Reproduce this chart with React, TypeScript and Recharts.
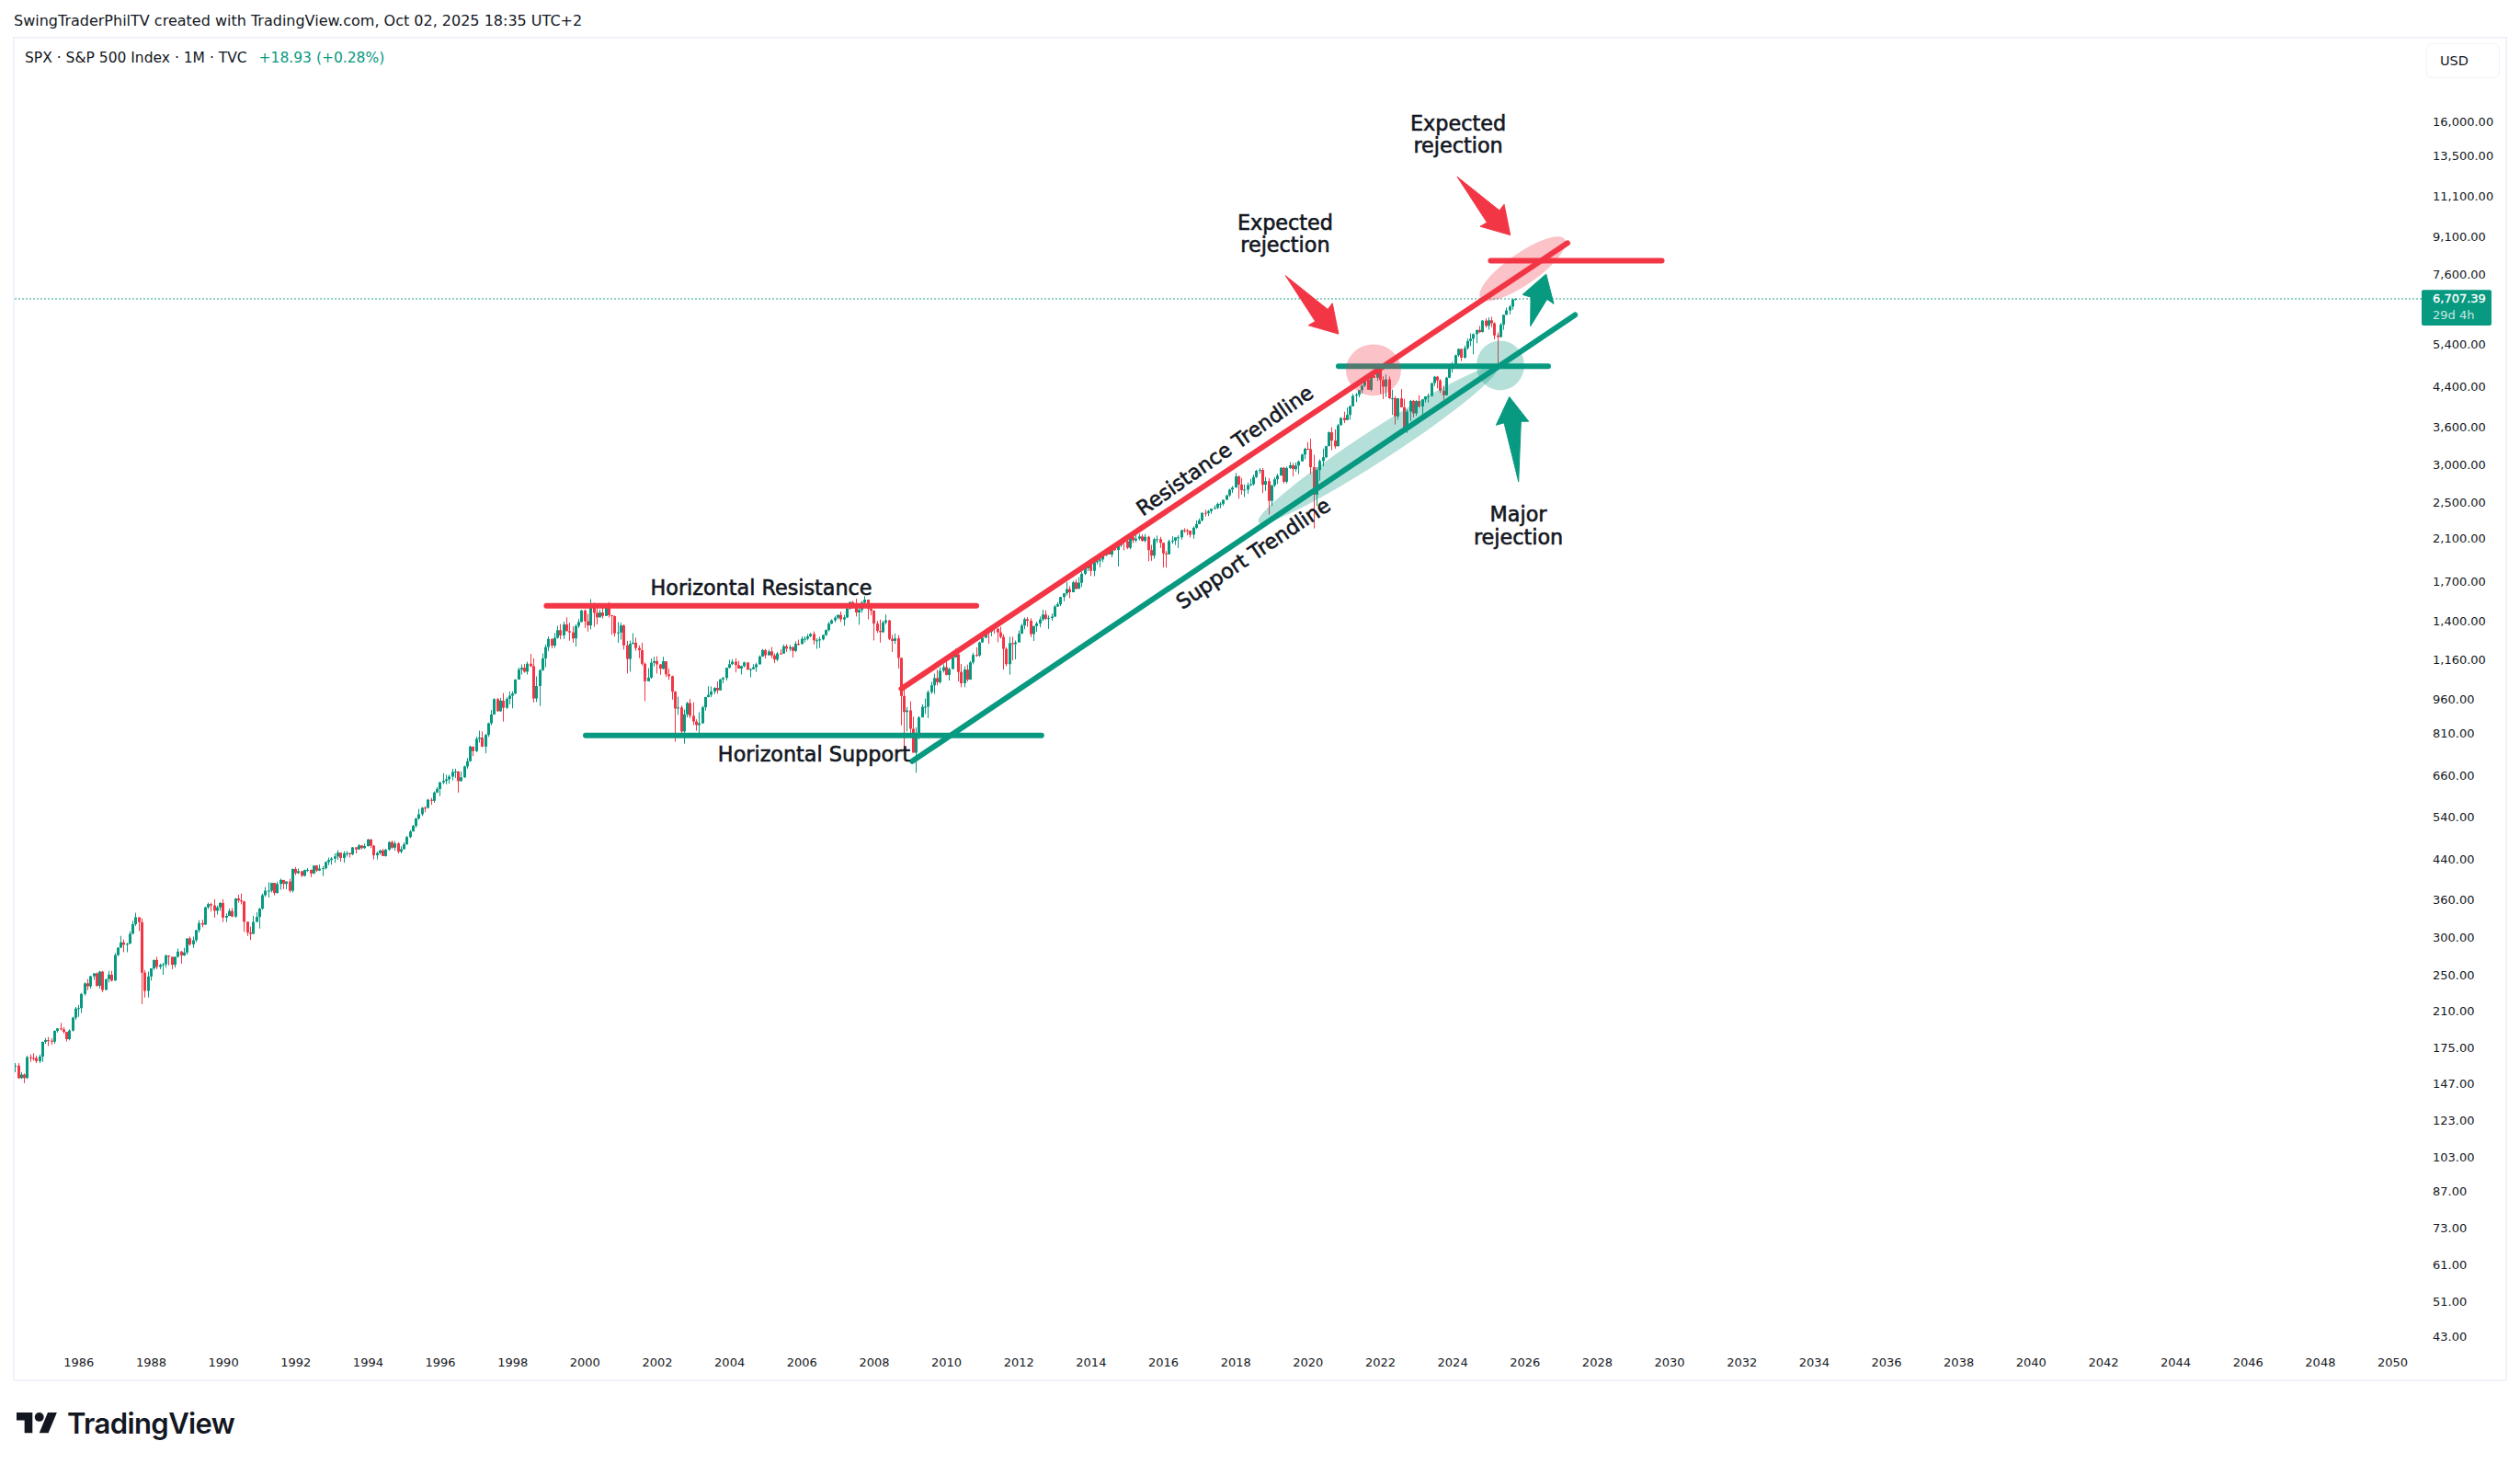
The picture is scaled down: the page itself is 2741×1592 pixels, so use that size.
import { Bar, ComposedChart, ReferenceDot, ReferenceLine, XAxis, YAxis } from 'recharts';

const GREEN = '#089981';
const RED = '#F23645';
const INK = '#131722';
const FONT = '"DejaVu Sans", sans-serif';

// monthly candles, Apr 1984 to Oct 2025, one row per year
const firstOpen = 159.18;
const closes = [
  160.05, 150.55, 153.18, 150.66, 166.68, 166.1, 166.09, 163.58, 167.24,
  179.63, 181.18, 180.66, 179.83, 189.55, 191.85, 190.92, 188.63, 182.08, 189.82, 202.17, 211.28,
  211.78, 226.92, 238.9, 235.52, 247.35, 250.84, 236.12, 252.93, 231.32, 243.98, 249.22, 242.17,
  274.08, 284.2, 291.7, 288.36, 290.1, 304, 318.66, 329.8, 321.83, 251.79, 230.3, 247.08,
  257.07, 267.82, 258.89, 261.33, 262.16, 273.5, 272.02, 261.52, 271.91, 278.97, 273.7, 277.72,
  297.47, 288.86, 294.87, 309.64, 320.52, 317.98, 346.08, 351.45, 349.15, 340.36, 345.99, 353.4,
  329.08, 331.89, 339.94, 330.8, 361.23, 358.02, 356.15, 322.56, 306.05, 304, 322.22, 330.22,
  343.93, 367.07, 375.22, 375.35, 389.83, 371.16, 387.81, 395.43, 387.86, 392.45, 375.22, 417.09,
  408.79, 412.7, 403.69, 414.95, 415.35, 408.14, 424.21, 414.03, 417.8, 418.68, 431.35, 435.71,
  438.78, 443.38, 451.67, 440.19, 450.19, 450.53, 448.13, 463.56, 458.93, 467.83, 461.79, 466.45,
  481.61, 467.14, 445.77, 450.91, 456.5, 444.27, 458.26, 475.49, 462.71, 472.35, 453.69, 459.27,
  470.42, 487.39, 500.71, 514.71, 533.4, 544.75, 562.06, 561.88, 584.41, 581.5, 605.37, 615.93,
  636.02, 640.43, 645.5, 654.17, 669.12, 670.63, 639.95, 651.99, 687.31, 705.27, 757.02, 740.74,
  786.16, 790.82, 757.12, 801.34, 848.28, 885.14, 954.31, 899.47, 947.28, 914.62, 955.4, 970.43,
  980.28, 1049.34, 1101.75, 1111.75, 1090.82, 1133.84, 1120.67, 957.28, 1017.01, 1098.67, 1163.63, 1229.23,
  1279.64, 1238.33, 1286.37, 1335.18, 1301.84, 1372.71, 1328.72, 1320.41, 1282.71, 1362.93, 1388.91, 1469.25,
  1394.46, 1366.42, 1498.58, 1452.43, 1420.6, 1454.6, 1430.83, 1517.68, 1436.51, 1429.4, 1314.95, 1320.28,
  1366.01, 1239.94, 1160.33, 1249.46, 1255.82, 1224.38, 1211.23, 1133.58, 1040.94, 1059.78, 1139.45, 1148.08,
  1130.2, 1106.73, 1147.39, 1076.92, 1067.14, 989.82, 911.62, 916.07, 815.28, 885.76, 936.31, 879.82,
  855.7, 841.15, 848.18, 916.92, 963.59, 974.5, 990.31, 1008.01, 995.97, 1050.71, 1058.2, 1111.92,
  1131.13, 1144.94, 1126.21, 1107.3, 1120.68, 1140.84, 1101.72, 1104.24, 1114.58, 1130.2, 1173.82, 1211.92,
  1181.27, 1203.6, 1180.59, 1156.85, 1191.5, 1191.33, 1234.18, 1220.33, 1228.81, 1207.01, 1249.48, 1248.29,
  1280.08, 1280.66, 1294.87, 1310.61, 1270.09, 1270.2, 1276.66, 1303.82, 1335.85, 1377.94, 1400.63, 1418.3,
  1438.24, 1406.82, 1420.86, 1482.37, 1530.62, 1503.35, 1455.27, 1473.99, 1526.75, 1549.38, 1481.14, 1468.36,
  1378.55, 1330.63, 1322.7, 1385.59, 1400.38, 1280, 1267.38, 1282.83, 1166.36, 968.75, 896.24, 903.25,
  825.88, 735.09, 797.87, 872.81, 919.14, 919.32, 987.48, 1020.62, 1057.08, 1036.19, 1095.63, 1115.1,
  1073.87, 1104.49, 1169.43, 1186.69, 1089.41, 1030.71, 1101.6, 1049.33, 1141.2, 1183.26, 1180.55, 1257.64,
  1286.12, 1327.22, 1325.83, 1363.61, 1345.2, 1320.64, 1292.28, 1218.89, 1131.42, 1253.3, 1246.96, 1257.6,
  1312.41, 1365.68, 1408.47, 1397.91, 1310.33, 1362.16, 1379.32, 1406.58, 1440.67, 1412.16, 1416.18, 1426.19,
  1498.11, 1514.68, 1569.19, 1597.57, 1630.74, 1606.28, 1685.73, 1632.97, 1681.55, 1756.54, 1805.81, 1848.36,
  1782.59, 1859.45, 1872.34, 1883.95, 1923.57, 1960.23, 1930.67, 2003.37, 1972.29, 2018.05, 2067.56, 2058.9,
  1994.99, 2104.5, 2067.89, 2085.51, 2107.39, 2063.11, 2103.84, 1972.18, 1920.03, 2079.36, 2080.41, 2043.94,
  1940.24, 1932.23, 2059.74, 2065.3, 2096.95, 2098.86, 2173.6, 2170.95, 2168.27, 2126.15, 2198.81, 2238.83,
  2278.87, 2363.64, 2362.72, 2384.2, 2411.8, 2423.41, 2470.3, 2471.65, 2519.36, 2575.26, 2647.58, 2673.61,
  2823.81, 2713.83, 2640.87, 2648.05, 2705.27, 2718.37, 2816.29, 2901.52, 2913.98, 2711.74, 2760.17, 2506.85,
  2704.1, 2784.49, 2834.4, 2945.83, 2752.06, 2941.76, 2980.38, 2926.46, 2976.74, 3037.56, 3140.98, 3230.78,
  3225.52, 2954.22, 2584.59, 2912.43, 3044.31, 3100.29, 3271.12, 3500.31, 3363, 3269.96, 3621.63, 3756.07,
  3714.24, 3811.15, 3972.89, 4181.17, 4204.11, 4297.5, 4395.26, 4522.68, 4307.54, 4605.38, 4567, 4766.18,
  4515.55, 4373.94, 4530.41, 4131.93, 4132.15, 3785.38, 4130.29, 3955, 3585.62, 3871.98, 4080.11, 3839.5,
  4076.6, 3970.15, 4109.31, 4169.48, 4179.83, 4450.38, 4588.96, 4507.66, 4288.05, 4193.8, 4567.8, 4769.83,
  4845.65, 5096.27, 5254.35, 5035.69, 5277.51, 5460.48, 5522.3, 5648.4, 5762.48, 5705.45, 6032.38, 5881.63,
  6040.53, 5954.5, 5611.85, 5569.06, 5911.69, 6204.95, 6339.39, 6460.26, 6688.46, 6707.39,
];
const highs = [
  162, 162, 155, 154, 168, 169, 170, 168, 169,
  180, 183, 184, 183, 190, 192, 197, 193, 188, 191, 203, 213,
  215, 228, 240, 244, 248, 251, 252, 254, 254, 244, 254, 254,
  277, 285, 301, 296, 291, 308, 324, 337, 329, 328, 255, 253,
  257, 268, 272, 263, 264, 275, 274, 264, 272, 283, 280, 284,
  297, 300, 300, 310, 325, 326, 347, 354, 354, 360, 349, 355,
  360, 336, 344, 345, 362, 368, 370, 357, 323, 315, 332, 338,
  345, 370, 382, 391, 390, 390, 392, 398, 393, 393, 398, 418,
  421, 418, 413, 416, 419, 416, 424, 425, 426, 423, 433, 441,
  442, 450, 457, 451, 455, 455, 451, 464, 464, 471, 469, 472,
  483, 483, 469, 454, 458, 460, 460, 477, 479, 478, 475, 466,
  475, 490, 504, 517, 535, 559, 564, 566, 587, 590, 609, 622,
  638, 665, 660, 660, 680, 680, 672, 670, 690, 716, 761, 758,
  795, 818, 815, 806, 851, 905, 958, 960, 960, 983, 963, 991,
  991, 1052, 1113, 1130, 1132, 1145, 1190, 1164, 1066, 1104, 1192, 1245,
  1295, 1281, 1317, 1364, 1375, 1391, 1421, 1385, 1360, 1373, 1410, 1474,
  1478, 1445, 1553, 1527, 1482, 1475, 1518, 1520, 1531, 1437, 1434, 1389,
  1384, 1373, 1267, 1269, 1316, 1287, 1240, 1256, 1140, 1110, 1163, 1173,
  1176, 1132, 1173, 1147, 1107, 1070, 992, 966, 925, 907, 941, 955,
  940, 865, 895, 924, 965, 1016, 1015, 1012, 1040, 1053, 1064, 1112,
  1156, 1159, 1164, 1150, 1123, 1146, 1141, 1110, 1131, 1139, 1182, 1218,
  1218, 1213, 1230, 1192, 1200, 1217, 1245, 1246, 1243, 1234, 1265, 1275,
  1295, 1296, 1310, 1318, 1327, 1284, 1293, 1307, 1340, 1390, 1408, 1432,
  1441, 1462, 1438, 1498, 1535, 1540, 1556, 1504, 1539, 1576, 1545, 1523,
  1471, 1396, 1406, 1398, 1441, 1404, 1305, 1314, 1304, 1168, 1007, 918,
  944, 876, 832, 878, 930, 957, 996, 1039, 1080, 1101, 1114, 1130,
  1150, 1113, 1180, 1220, 1219, 1132, 1120, 1129, 1149, 1196, 1228, 1263,
  1303, 1344, 1332, 1364, 1371, 1346, 1357, 1308, 1229, 1293, 1293, 1270,
  1334, 1378, 1420, 1423, 1415, 1363, 1392, 1427, 1475, 1471, 1434, 1448,
  1510, 1531, 1570, 1598, 1688, 1655, 1698, 1710, 1730, 1776, 1814, 1850,
  1850, 1868, 1884, 1897, 1925, 1968, 1992, 2006, 2019, 2019, 2075, 2094,
  2065, 2119, 2118, 2126, 2135, 2130, 2133, 2113, 2022, 2095, 2117, 2104,
  2039, 1962, 2076, 2111, 2100, 2121, 2178, 2194, 2187, 2169, 2214, 2278,
  2301, 2371, 2401, 2398, 2416, 2454, 2485, 2491, 2520, 2582, 2658, 2695,
  2873, 2836, 2801, 2717, 2742, 2791, 2848, 2917, 2941, 2940, 2815, 2800,
  2708, 2814, 2861, 2949, 2955, 2964, 3028, 3014, 3022, 3050, 3154, 3248,
  3338, 3394, 3136, 2955, 3068, 3234, 3280, 3515, 3588, 3550, 3646, 3760,
  3871, 3951, 3995, 4219, 4239, 4302, 4412, 4546, 4546, 4609, 4744, 4808,
  4819, 4598, 4638, 4594, 4308, 4177, 4140, 4325, 4120, 3912, 4101, 4100,
  4095, 4195, 4110, 4170, 4232, 4449, 4608, 4607, 4537, 4393, 4587, 4794,
  4931, 5111, 5265, 5264, 5342, 5524, 5670, 5670, 5767, 5879, 6045, 6100,
  6128, 6147, 5987, 5694, 5969, 6215, 6428, 6508, 6700, 6718,
];
const lows = [
  155, 150, 150, 147, 150, 163, 164, 162, 162,
  163, 178, 176, 177, 178, 188, 190, 187, 180, 181, 189, 200,
  203, 207, 225, 231, 233, 243, 235, 233, 229, 232, 240, 241,
  242, 273, 284, 278, 278, 289, 304, 316, 308, 216, 223, 223,
  242, 255, 256, 256, 249, 258, 261, 256, 258, 271, 263, 273,
  275, 287, 284, 292, 306, 314, 318, 343, 339, 329, 334, 340,
  322, 322, 332, 330, 329, 354, 351, 307, 301, 295, 304, 322,
  312, 342, 364, 363, 372, 367, 370, 377, 378, 378, 372, 372,
  405, 407, 401, 402, 411, 401, 407, 411, 413, 403, 416, 425,
  426, 430, 436, 432, 430, 443, 441, 446, 450, 458, 459, 460,
  465, 462, 437, 437, 447, 444, 443, 456, 460, 456, 450, 450,
  459, 469, 485, 501, 510, 530, 540, 550, 560, 570, 576, 604,
  595, 630, 630, 632, 642, 650, 605, 639, 650, 680, 703, 723,
  737, 772, 755, 733, 794, 840, 885, 898, 897, 855, 910, 930,
  912, 977, 1050, 1076, 1085, 1076, 1115, 939, 941, 923, 1094, 1115,
  1205, 1222, 1225, 1281, 1277, 1278, 1329, 1268, 1256, 1233, 1349, 1390,
  1350, 1326, 1340, 1357, 1373, 1421, 1413, 1431, 1420, 1305, 1294, 1255,
  1275, 1215, 1081, 1091, 1246, 1208, 1165, 1124, 945, 1040, 1054, 1119,
  1081, 1074, 1102, 1063, 1048, 952, 776, 884, 800, 768, 873, 869,
  841, 818, 789, 847, 902, 963, 963, 978, 980, 995, 1031, 1045,
  1108, 1127, 1087, 1108, 1076, 1113, 1100, 1061, 1102, 1090, 1131, 1173,
  1163, 1182, 1165, 1137, 1147, 1187, 1192, 1202, 1205, 1169, 1200, 1239,
  1245, 1258, 1270, 1291, 1245, 1219, 1224, 1270, 1299, 1327, 1375, 1387,
  1408, 1389, 1364, 1416, 1476, 1484, 1427, 1371, 1454, 1489, 1407, 1435,
  1270, 1317, 1257, 1317, 1373, 1272, 1200, 1248, 1107, 840, 741, 815,
  795, 735, 667, 784, 873, 888, 870, 979, 979, 1020, 1029, 1086,
  1071, 1045, 1105, 1168, 1040, 1011, 1011, 1039, 1049, 1131, 1173, 1173,
  1257, 1303, 1250, 1296, 1312, 1259, 1282, 1102, 1120, 1075, 1152, 1159,
  1259, 1312, 1341, 1358, 1291, 1267, 1325, 1354, 1397, 1403, 1343, 1398,
  1426, 1496, 1501, 1537, 1582, 1560, 1605, 1628, 1640, 1647, 1747, 1780,
  1738, 1737, 1840, 1814, 1859, 1915, 1931, 1904, 1965, 1821, 2002, 1972,
  1981, 1980, 2040, 2048, 2068, 2057, 2049, 1867, 1872, 1891, 2042, 1993,
  1812, 1810, 1931, 2034, 2022, 1991, 2075, 2147, 2119, 2097, 2084, 2187,
  2245, 2267, 2322, 2329, 2353, 2405, 2408, 2417, 2447, 2520, 2557, 2605,
  2683, 2533, 2585, 2554, 2595, 2692, 2699, 2802, 2864, 2604, 2631, 2346,
  2444, 2682, 2722, 2848, 2728, 2729, 2927, 2823, 2892, 2856, 3050, 3070,
  3214, 2855, 2192, 2448, 2766, 2966, 3085, 3279, 3209, 3233, 3280, 3634,
  3662, 3725, 3723, 3976, 4057, 4155, 4235, 4365, 4305, 4278, 4560, 4495,
  4223, 4115, 4157, 4122, 3811, 3637, 3723, 3954, 3585, 3492, 3698, 3764,
  3795, 3944, 3809, 4049, 4048, 4167, 4385, 4336, 4238, 4103, 4189, 4558,
  4683, 4845, 5057, 4954, 5012, 5234, 5327, 5119, 5403, 5675, 5696, 5832,
  5773, 5837, 5504, 4835, 5552, 5768, 6201, 6212, 6360, 6656,
];

const yearLabels = [1986, 1988, 1990, 1992, 1994, 1996, 1998, 2000, 2002, 2004, 2006, 2008, 2010, 2012, 2014, 2016, 2018, 2020, 2022, 2024, 2026, 2028, 2030, 2032, 2034, 2036, 2038, 2040, 2042, 2044, 2046, 2048, 2050];
const priceTicks = [16000, 13500, 11100, 9100, 7600, 5400, 4400, 3600, 3000, 2500, 2100, 1700, 1400, 1160, 960, 810, 660, 540, 440, 360, 300, 250, 210, 175, 147, 123, 103, 87, 73, 61, 51, 43];
const lastPrice = 6707.39;

// trendlines: [month index, price] at both ends
const resistanceFlat = [[176.2, 1504], [318.9, 1504]];
const supportFlat = [[189.2, 799], [340.5, 799]];
const resistanceTrend = [[294, 1004], [515.1, 8800]];
const supportTrend = [[297.6, 705], [517.6, 6203]];
const upperFlat = [[439.1, 4832], [508.7, 4832]];
const topFlat = [[489.6, 8081], [546.4, 8081]];

const xDomain = [-0.305, 798.6];
const yDomain = [40.59, 23829];

const candles = closes.map((close, i) => ({
  i,
  open: i === 0 ? firstOpen : closes[i - 1],
  close,
  high: highs[i],
  low: lows[i],
  range: [lows[i], highs[i]],
}));

function Candle(props: any) {
  const { x, y, width, height, payload } = props;
  const { open, close, high, low } = payload;
  const at = (v: number) => y + (height * Math.log(high / v)) / Math.log(high / low);
  const color = close >= open ? GREEN : RED;
  const left = Math.round(x + width / 2 - 1.5);
  const top = at(Math.max(open, close));
  const bottom = at(Math.min(open, close));
  return (
    <g>
      <rect x={left + 1} y={y} width={1} height={height} fill={color} />
      <rect x={left} y={top} width={3} height={Math.max(bottom - top, 1)} fill={color} />
    </g>
  );
}

function Note({ cx, cy, lines, angle = 0, size = 22.3 }: any) {
  return (
    <text
      transform={`translate(${cx} ${cy}) rotate(${angle})`}
      textAnchor="middle"
      fontFamily={FONT}
      fontSize={size}
      fill={INK}
      stroke={INK}
      strokeWidth={0.6}
    >
      {lines.map((line: string, k: number) => (
        <tspan key={line} x={0} y={(k - (lines.length - 1) / 2) * 24.5 + size * 0.36}>{line}</tspan>
      ))}
    </text>
  );
}

function Arrow({ cx, cy, points, color }: any) {
  return <polygon points={points.map((p: number[]) => `${cx + p[0]},${cy + p[1]}`).join(' ')} fill={color} stroke={color} strokeWidth={1} strokeLinejoin="round" />;
}

const redArrow = [[0, 0], [-32.7, -9.4], [-25.3, -13.7], [-57.7, -63.4], [-11.7, -26.7], [-6.7, -33.4]];
const smallGreenArrow = [[0, 0], [-25.7, 22.3], [-16.7, 25], [-17, 56.6], [1, 27.3], [8.3, 32.3]];
const majorGreenArrow = [[0, 0], [-14.4, 30.7], [-5.7, 28.3], [10, 92.3], [12.6, 26.7], [21, 26.7]];

function LastPriceTag({ cx, cy }: any) {
  return (
    <g fontFamily={FONT} fontSize={13}>
      <rect x={cx} y={cy - 9.6} width={76} height={38.7} rx={2} fill={GREEN} />
      <text x={cx + 12} y={cy + 4.5} fill="#fff" stroke="#fff" strokeWidth={0.3}>{lastPrice.toLocaleString('en-US', { minimumFractionDigits: 2 })}</text>
      <text x={cx + 12} y={cy + 22.5} fill="#c4e8e0">29d 4h</text>
    </g>
  );
}

const line = (ends: number[][], color: string) => (
  <ReferenceLine
    key={`${ends[0][0]}`}
    segment={[{ x: ends[0][0], y: ends[0][1] }, { x: ends[1][0], y: ends[1][1] }]}
    stroke={color}
    strokeWidth={6}
    strokeLinecap="round"
    ifOverflow="visible"
  />
);

export default function App() {
  return (
    <div style={{ position: 'absolute', left: 0, top: 0, width: 2741, height: 1592, background: '#fff', fontFamily: FONT, color: INK, overflow: 'hidden' }}>
      <div style={{ position: 'absolute', left: 15, top: 13, fontSize: 16, whiteSpace: 'nowrap' }}>
        SwingTraderPhilTV created with TradingView.com, Oct 02, 2025 18:35 UTC+2
      </div>
      <div style={{ position: 'absolute', left: 14, top: 40, width: 2713, height: 1462, border: '2px solid #f0f3fa', boxSizing: 'border-box' }} />
      <ComposedChart
        width={2741}
        height={1592}
        data={candles}
        margin={{ top: 42, left: 16, right: 15, bottom: 91 }}
        style={{ position: 'absolute', left: 0, top: 0 }}
      >
        <XAxis
          dataKey="i"
          type="number"
          scale="linear"
          domain={xDomain}
          allowDataOverflow
          ticks={yearLabels.map((y) => (y - 1984) * 12 - 3)}
          interval={0}
          tickFormatter={(v: number) => String(Math.round((v + 3) / 12) + 1984)}
          axisLine={false}
          tickLine={false}
          tickSize={0}
          tickMargin={12}
          height={36}
          tick={{ fill: INK, fontSize: 13, fontFamily: FONT }}
        />
        <YAxis
          orientation="right"
          type="number"
          scale="log"
          domain={yDomain}
          allowDataOverflow
          ticks={priceTicks}
          interval={0}
          tickFormatter={(v: number) => v.toLocaleString('en-US', { minimumFractionDigits: 2, maximumFractionDigits: 2 })}
          axisLine={false}
          tickLine={false}
          tickSize={0}
          tickMargin={12}
          width={92}
          tick={{ fill: INK, fontSize: 13, fontFamily: FONT, textAnchor: 'start', dy: 1 }}
        />
        <Bar dataKey="range" barSize={3} shape={Candle} isAnimationActive={false} />

        <ReferenceLine y={lastPrice} stroke={GREEN} strokeOpacity={0.9} strokeWidth={1} strokeDasharray="2 2" />

        <ReferenceDot x={450.7} y={4740} r={30} shape={(p: any) => <ellipse cx={p.cx} cy={p.cy} rx={30} ry={28} fill={RED} fillOpacity={0.3} />} />
        <ReferenceDot x={492.8} y={4849} r={26} shape={(p: any) => <ellipse cx={p.cx} cy={p.cy} rx={26} ry={27} fill={GREEN} fillOpacity={0.3} />} />
        <ReferenceDot x={500.2} y={7762} r={50} shape={(p: any) => <ellipse cx={p.cx} cy={p.cy} rx={56} ry={17} transform={`rotate(-35 ${p.cx} ${p.cy})`} fill={RED} fillOpacity={0.3} />} />
        <ReferenceDot x={452.2} y={3296} r={50} shape={(p: any) => <ellipse cx={p.cx} cy={p.cy} rx={155} ry={17} transform={`rotate(-33 ${p.cx} ${p.cy})`} fill={GREEN} fillOpacity={0.3} />} />

        {line(resistanceFlat, RED)}
        {line(supportFlat, GREEN)}
        {line(resistanceTrend, RED)}
        {line(supportTrend, GREEN)}
        {line(upperFlat, GREEN)}
        {line(topFlat, RED)}

        <ReferenceDot x={439.1} y={5653} r={1} shape={(p: any) => <Arrow cx={p.cx} cy={p.cy} points={redArrow} color={RED} />} />
        <ReferenceDot x={496.1} y={9152} r={1} shape={(p: any) => <Arrow cx={p.cx} cy={p.cy} points={redArrow} color={RED} />} />
        <ReferenceDot x={508} y={7566} r={1} shape={(p: any) => <Arrow cx={p.cx} cy={p.cy} points={smallGreenArrow} color={GREEN} />} />
        <ReferenceDot x={495.8} y={4161} r={1} shape={(p: any) => <Arrow cx={p.cx} cy={p.cy} points={majorGreenArrow} color={GREEN} />} />

        <ReferenceDot x={247.5} y={1642} r={1} shape={(p: any) => <Note cx={p.cx} cy={p.cy} lines={['Horizontal Resistance']} />} />
        <ReferenceDot x={265} y={730} r={1} shape={(p: any) => <Note cx={p.cx} cy={p.cy} lines={['Horizontal Support']} />} />
        <ReferenceDot x={421.4} y={9226} r={1} shape={(p: any) => <Note cx={p.cx} cy={p.cy} lines={['Expected', 'rejection']} />} />
        <ReferenceDot x={478.8} y={14960} r={1} shape={(p: any) => <Note cx={p.cx} cy={p.cy} lines={['Expected', 'rejection']} />} />
        <ReferenceDot x={498.8} y={2221} r={1} shape={(p: any) => <Note cx={p.cx} cy={p.cy} lines={['Major', 'rejection']} />} />
        <ReferenceDot x={401.3} y={3209} r={1} shape={(p: any) => <Note cx={p.cx} cy={p.cy} lines={['Resistance Trendline']} angle={-35} />} />
        <ReferenceDot x={410.7} y={1942} r={1} shape={(p: any) => <Note cx={p.cx} cy={p.cy} lines={['Support Trendline']} angle={-34} />} />

        <ReferenceDot x={xDomain[1]} y={lastPrice} r={1} shape={LastPriceTag} />
      </ComposedChart>
      <div style={{ position: 'absolute', left: 27, top: 54, fontSize: 15.5, whiteSpace: 'nowrap' }}>
        SPX · S&amp;P 500 Index · 1M · TVC <span style={{ color: GREEN, marginLeft: 8 }}>+18.93 (+0.28%)</span>
      </div>
      <div style={{ position: 'absolute', left: 2639, top: 47, width: 80, height: 38, border: '1px solid #f0f3fa', borderRadius: 6, boxSizing: 'border-box', fontSize: 14.5, lineHeight: '36px', paddingLeft: 14 }}>
        USD
      </div>
      <svg width={44.5} height={28} viewBox="0 0 36 22.65" style={{ position: 'absolute', left: 18, top: 1531 }}>
        <path d="M14 22H7V11H0V4h14v18zM28 22h-8l7.5-18h8L28 22z" fill={INK} />
        <circle cx={20} cy={8} r={4} fill={INK} />
      </svg>
      <div style={{ position: 'absolute', left: 73, top: 1529, fontFamily: 'Inter, sans-serif', fontWeight: 600, fontSize: 31, letterSpacing: -0.6, whiteSpace: 'nowrap' }}>
        TradingView
      </div>
    </div>
  );
}
